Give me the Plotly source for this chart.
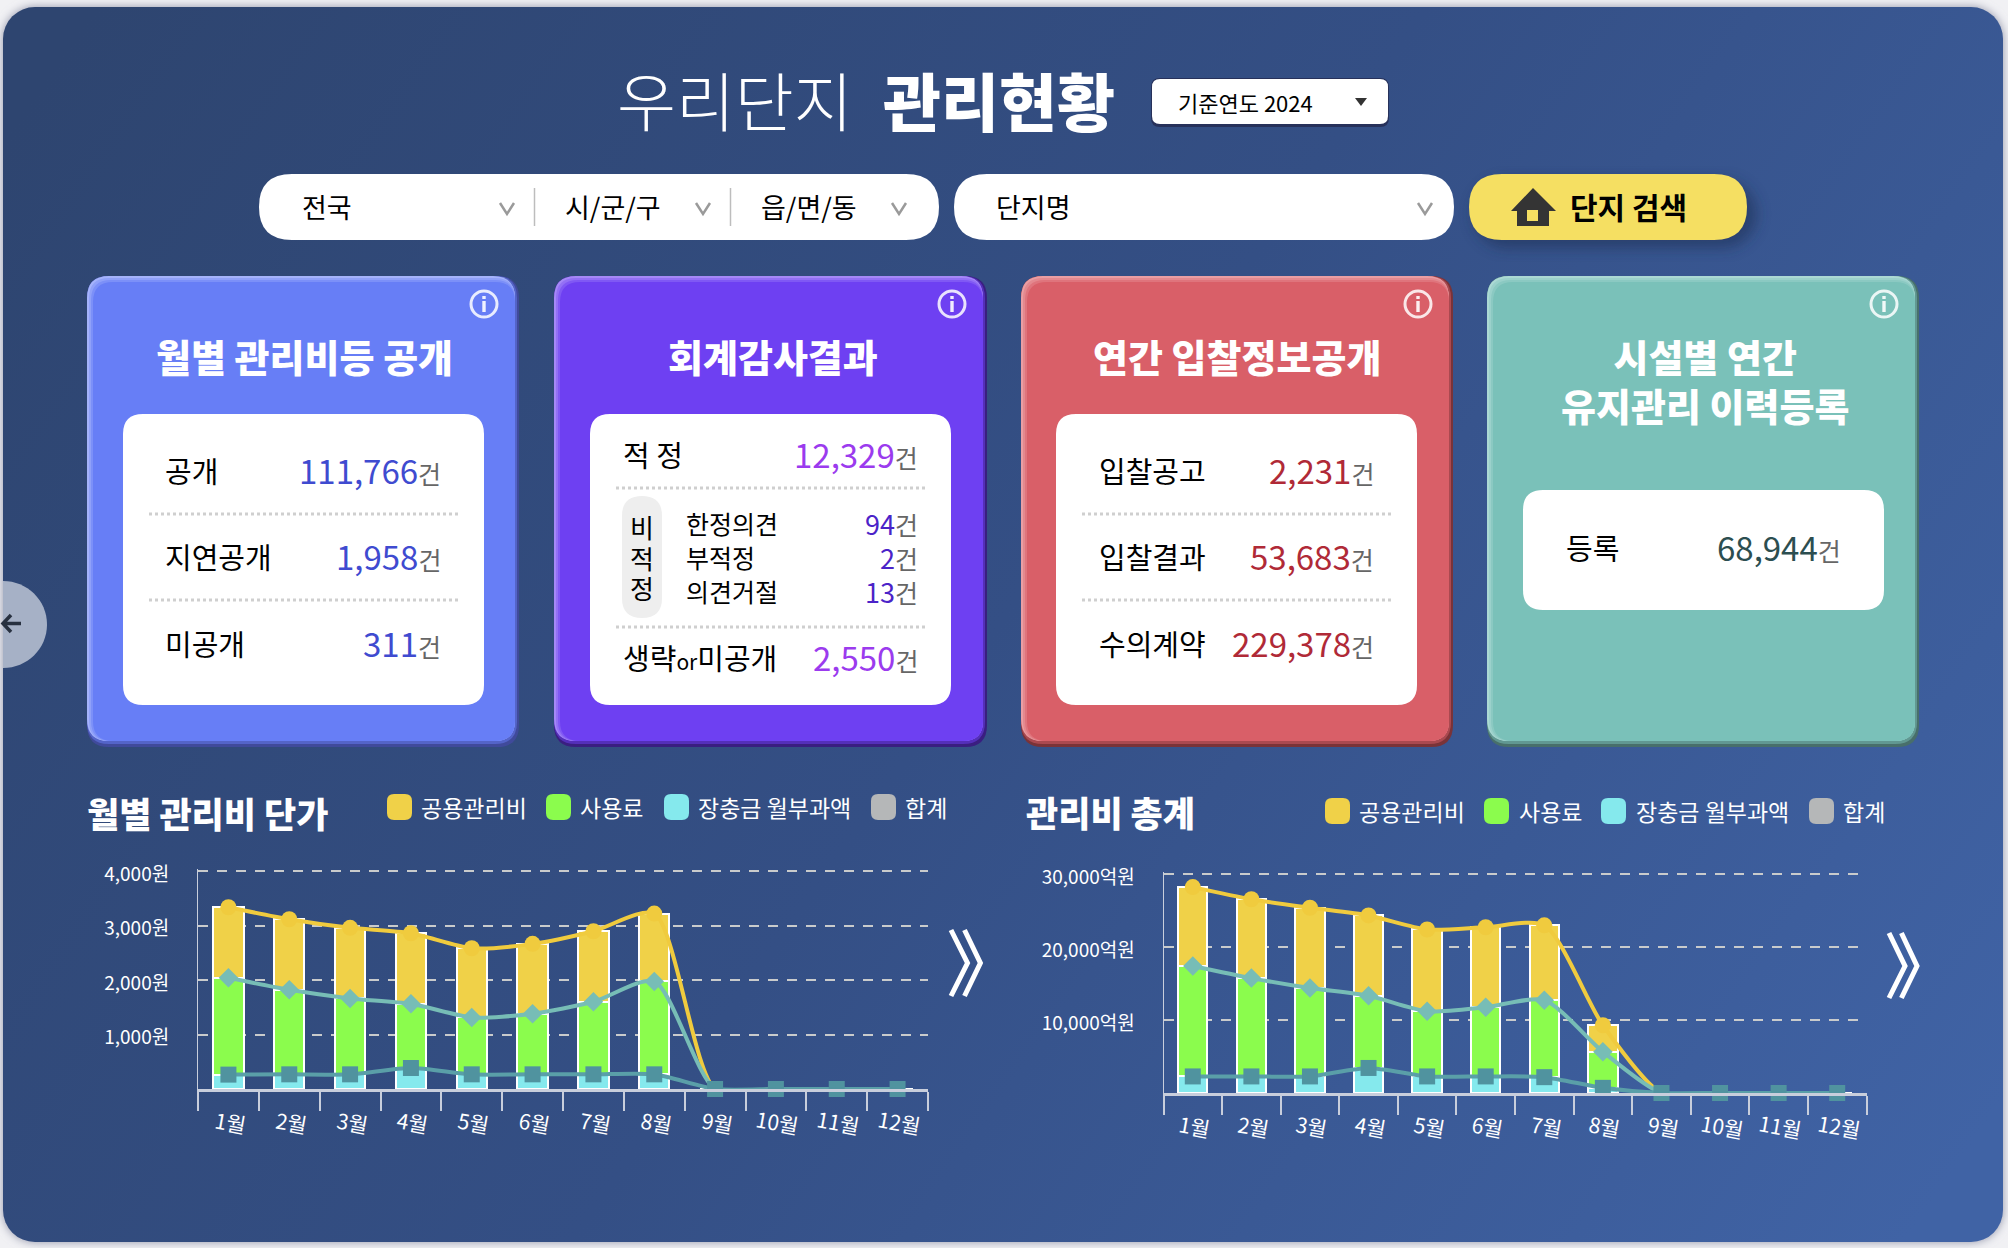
import base64

import plotly.graph_objects as go

FONT = "Noto Sans CJK KR"
WIDTH = 2008
HEIGHT = 1248

MONTHS = ["1월", "2월", "3월", "4월", "5월", "6월", "7월", "8월", "9월", "10월", "11월", "12월"]
LEGEND_LABELS = ["공용관리비", "사용료", "장충금 월부과액", "합계"]
LEGEND_COLORS = ["#F0D148", "#8BFC4D", "#85E9ED", "#B5B7B8"]

# 월별 관리비 단가 (원)
UNIT_COMMON = [1295, 1295, 1295, 1295, 1270, 1283, 1295, 1246, 0, 0, 0, 0]
UNIT_USAGE = [1776, 1551, 1393, 1178, 1044, 1111, 1331, 1704, 0, 0, 0, 0]
UNIT_RESERVE = [264, 269, 269, 385, 269, 269, 269, 269, 0, 0, 0, 0]
UNIT_TICKS = [1000, 2000, 3000, 4000]
UNIT_TICK_LABELS = ["1,000원", "2,000원", "3,000원", "4,000원"]

# 관리비 총계 (억원)
TOTAL_COMMON = [10800, 10800, 11000, 11000, 11200, 10950, 10250, 3630, 0, 0, 0, 0]
TOTAL_USAGE = [15135, 13470, 12110, 9890, 8930, 9485, 10545, 4945, 0, 0, 0, 0]
TOTAL_RESERVE = [2270, 2270, 2270, 3430, 2270, 2270, 2170, 705, 0, 0, 0, 0]
TOTAL_TICKS = [10000, 20000, 30000]
TOTAL_TICK_LABELS = ["10,000억원", "20,000억원", "30,000억원"]

CARD_TITLES = ["월별 관리비등 공개", "회계감사결과", "연간 입찰정보공개", "시설별 연간<br>유지관리 이력등록"]
CARD1_LABELS = ["공개", "지연공개", "미공개"]
CARD1_VALUES = ["111,766", "1,958", "311"]
CARD2_TOP = ("적 정", "12,329")
CARD2_SUB_LABELS = ["한정의견", "부적정", "의견거절"]
CARD2_SUB_VALUES = ["94", "2", "13"]
CARD2_BOTTOM = "2,550"
CARD3_LABELS = ["입찰공고", "입찰결과", "수의계약"]
CARD3_VALUES = ["2,231", "53,683", "229,378"]
CARD4_LABEL = "등록"
CARD4_VALUE = "68,944"

shapes = []
annotations = []


def add_text(x, y, text, size, color="#000000", anchor="left", bold=False, weight=None):
    annotations.append(dict(
        x=x, y=y, xref="x", yref="y", text=text, showarrow=False, align=anchor,
        xanchor=anchor, yanchor="middle", borderpad=0, borderwidth=0,
        font=dict(family=FONT, size=size, color=color,
                  weight=weight if weight else (700 if bold else 400)),
    ))


def round_path(x0, y0, x1, y1, r):
    return (f"M{x0 + r},{y0} L{x1 - r},{y0} Q{x1},{y0} {x1},{y0 + r} "
            f"L{x1},{y1 - r} Q{x1},{y1} {x1 - r},{y1} "
            f"L{x0 + r},{y1} Q{x0},{y1} {x0},{y1 - r} "
            f"L{x0},{y0 + r} Q{x0},{y0} {x0 + r},{y0} Z")


def add_box(x0, y0, x1, y1, r, color):
    shapes.append(dict(type="path", path=round_path(x0, y0, x1, y1, r), xref="x", yref="y",
                       fillcolor=color, line=dict(width=0), layer="below"))


def add_line(path, color, width):
    shapes.append(dict(type="path", path=path, xref="x", yref="y",
                       line=dict(color=color, width=width), layer="below"))


def add_chevron(x, y):
    add_line(f"M{x - 7},{y - 5} L{x},{y + 6} L{x + 7},{y - 5}", "#9A9A9A", 2.5)


def add_separator(x0, x1, y):
    shapes.append(dict(type="line", x0=x0, x1=x1, y0=y, y1=y, xref="x", yref="y",
                       line=dict(color="#CFCFCF", width=3, dash="dot"), layer="below"))


def mix(c1, c2, t):
    a = [int(c1[i:i + 2], 16) for i in (1, 3, 5)]
    b = [int(c2[i:i + 2], 16) for i in (1, 3, 5)]
    return "#" + "".join(f"{round(p + (q - p) * t):02x}" for p, q in zip(a, b))


def add_card(x0, y0, x1, y1, main, light, dark):
    # bevel: dark on the right and bottom, light on the top and left
    add_box(x0, y0, x1, y1, 22, dark)
    add_box(x0, y0, x1 - 2, y1 - 3, 22, mix(dark, main, 0.5))
    add_box(x0, y0, x1 - 4, y1 - 6, 22, light)
    for i in range(1, 4):
        inset = i * 2
        add_box(x0 + inset, y0 + inset, x1 - 4, y1 - 6, 20, mix(light, main, i / 3))
    # info icon
    cx, cy = x1 - 35, 304
    shapes.append(dict(type="circle", x0=cx - 13, x1=cx + 13, y0=cy - 13, y1=cy + 13, xref="x", yref="y",
                       line=dict(color="rgba(255,255,255,0.85)", width=3), layer="below"))
    shapes.append(dict(type="rect", x0=cx - 1.7, x1=cx + 1.7, y0=cy - 3, y1=cy + 8, xref="x", yref="y",
                       fillcolor="rgba(255,255,255,0.9)", line=dict(width=0), layer="below"))
    shapes.append(dict(type="rect", x0=cx - 1.7, x1=cx + 1.7, y0=cy - 8, y1=cy - 5, xref="x", yref="y",
                       fillcolor="rgba(255,255,255,0.9)", line=dict(width=0), layer="below"))


def count_text(value, color, size=33, unit_size=25):
    return (f'<span style="color:{color};font-size:{size}px">{value}</span>'
            f'<span style="color:#666666;font-size:{unit_size}px">건</span>')


# page background, gradient card and soft shadows
bg_svg = f"""<svg xmlns="http://www.w3.org/2000/svg" width="{WIDTH}" height="{HEIGHT}" viewBox="0 0 {WIDTH} {HEIGHT}">
<defs>
<linearGradient id="g" gradientUnits="userSpaceOnUse" x1="100" y1="0" x2="1900" y2="1248">
<stop offset="0" stop-color="#2E4570"/><stop offset="0.5" stop-color="#344F85"/><stop offset="1" stop-color="#4063A5"/>
</linearGradient>
<filter id="b" x="-20%" y="-20%" width="140%" height="140%"><feGaussianBlur stdDeviation="7"/></filter>
<filter id="c" x="-5%" y="-5%" width="110%" height="110%"><feGaussianBlur stdDeviation="5"/></filter>
</defs>
<rect width="{WIDTH}" height="{HEIGHT}" fill="#F1F1F4"/>
<rect x="3" y="7" width="2000" height="1235" rx="32" fill="#8F93A8" filter="url(#c)"/>
<rect x="3" y="7" width="2000" height="1235" rx="32" fill="url(#g)"/>
<rect x="1473" y="180" width="284" height="68" rx="34" fill="#1F2E52" opacity="0.55" filter="url(#b)"/>
</svg>"""
bg_source = "data:image/svg+xml;base64," + base64.b64encode(bg_svg.encode()).decode()

# title row
add_text(735, 98, "우리단지", 64, "#FFFFFF", "center", weight=300)
add_text(999, 98, "관리현황", 63, "#FFFFFF", "center", weight=900)
add_box(1151, 78, 1389, 127, 9, "#27315A")
add_box(1152, 79, 1388, 124, 8, "#FFFFFF")
add_text(1245, 102, "기준연도 2024", 22, "#000000", "center")
shapes.append(dict(type="path", path="M1355,98 L1367,98 L1361,106 Z", xref="x", yref="y",
                   fillcolor="#333333", line=dict(width=0), layer="below"))

# search row
add_box(259, 174, 939, 240, 33, "#FFFFFF")
add_box(954, 174, 1454, 240, 33, "#FFFFFF")
add_box(1469, 174, 1747, 240, 33, "#F5DF62")
for sep_x in [534.5, 730.5]:
    shapes.append(dict(type="line", x0=sep_x, x1=sep_x, y0=188, y1=226, xref="x", yref="y",
                       line=dict(color="#BDBDBD", width=1.5), layer="below"))
for chev_x in [507, 703, 899, 1425]:
    add_chevron(chev_x, 208)
add_text(327, 206, "전국", 27, "#000000", "center")
add_text(613, 206, "시/군/구", 27, "#000000", "center")
add_text(809, 206, "읍/면/동", 27, "#000000", "center")
add_text(1033, 206, "단지명", 27, "#000000", "center")
add_text(1628, 206, "단지 검색", 30, "#000000", "center", bold=True)
shapes.append(dict(type="path", path="M1533,188 L1556,211 L1549,211 L1549,226 L1517,226 L1517,211 L1511,211 Z",
                   xref="x", yref="y", fillcolor="#343434", line=dict(width=0), layer="below"))
shapes.append(dict(type="rect", x0=1527, x1=1538, y0=210, y1=221, xref="x", yref="y",
                   fillcolor="#F5DF62", line=dict(width=0), layer="below"))

# left arrow button
shapes.append(dict(type="path", path="M3,581 C27,581 47,600 47,624.5 C47,649 27,668 3,668 Z", xref="x", yref="y",
                   fillcolor="#A6B1C6", line=dict(width=0), layer="below"))
add_line("M21,623.5 L4,623.5 M11,615 L3,623.5 L11,632", "#283140", 3.5)

# card 1
add_card(87, 276, 519, 747, "#677EF6", "#A5B3FB", "#404A9B")
add_text(304, 355, CARD_TITLES[0], 38, "#FFFFFF", "center", weight=900)
add_box(123, 414, 484, 705, 20, "#FFFFFF")
for sep_y in [514, 600]:
    add_separator(149, 458, sep_y)
for row_y, label, value in zip([470, 556, 643], CARD1_LABELS, CARD1_VALUES):
    add_text(165, row_y, label, 29)
    add_text(441, row_y, count_text(value, "#3F4BD0"), 33, "#3F4BD0", "right")

# card 2
add_card(554, 276, 987, 747, "#6E40F2", "#A588F7", "#3A1E80")
add_text(773, 355, CARD_TITLES[1], 38, "#FFFFFF", "center", weight=900)
add_box(590, 414, 951, 705, 20, "#FFFFFF")
add_separator(616, 925, 488)
add_separator(616, 925, 627)
add_text(623, 454, CARD2_TOP[0], 29)
add_text(918, 454, count_text(CARD2_TOP[1], "#9B3BEE"), 33, "#9B3BEE", "right")
add_box(622, 496, 662, 618, 20, "#EEEEEE")
pill_chars = "<br>".join(f'<span style="font-size:26px">{ch}</span>' for ch in "비적정")
add_text(642, 557, pill_chars, 23.5, "#000000", "center")
sub_labels = "<br>".join(f'<span style="font-size:25px">{label}</span>' for label in CARD2_SUB_LABELS)
add_text(686, 557, sub_labels, 26)
add_text(918, 557, "<br>".join(count_text(v, "#4B23C8", 27, 25) for v in CARD2_SUB_VALUES), 26, "#4B23C8", "right")
add_text(623, 657, '생략<span style="font-size:21px">or</span>미공개', 29)
add_text(918, 657, count_text(CARD2_BOTTOM, "#9B3BEE"), 33, "#9B3BEE", "right")

# card 3
add_card(1021, 276, 1453, 747, "#D95F68", "#EA9EA3", "#7A3338")
add_text(1237, 355, CARD_TITLES[2], 38, "#FFFFFF", "center", weight=900)
add_box(1056, 414, 1417, 705, 20, "#FFFFFF")
for sep_y in [514, 600]:
    add_separator(1082, 1391, sep_y)
for row_y, label, value in zip([470, 556, 643], CARD3_LABELS, CARD3_VALUES):
    add_text(1099, row_y, label, 29)
    add_text(1374, row_y, count_text(value, "#B02A37"), 33, "#B02A37", "right")

# card 4
add_card(1487, 276, 1919, 747, "#7AC1B9", "#ACD9D4", "#486F6B")
add_text(1705, 380, CARD_TITLES[3], 38, "#FFFFFF", "center", weight=900)
add_box(1523, 490, 1884, 610, 20, "#FFFFFF")
add_text(1566, 547, CARD4_LABEL, 29)
add_text(1841, 547, count_text(CARD4_VALUE, "#2C4E50"), 33, "#2C4E50", "right")

# chart headers, hand-drawn legends with rounded swatches
add_text(87, 812, "월별 관리비 단가", 35, "#FFFFFF", weight=900)
add_text(1026, 811, "관리비 총계", 35, "#FFFFFF", weight=900)
legend_left = [(387, 421), (546, 580), (664, 698), (871, 905)]
legend_right = [(1325, 1359), (1484, 1519), (1601, 1636), (1809, 1843)]
for positions, y_mid in [(legend_left, 807), (legend_right, 811)]:
    for (box_x, text_x), label, color in zip(positions, LEGEND_LABELS, LEGEND_COLORS):
        add_box(box_x, y_mid - 13, box_x + 25, y_mid + 13, 7, color)
        add_text(text_x, y_mid, label, 23, "#FFFFFF")

# ">>" links next to each chart
for x_a, x_b, x_c, x_d, y_a, y_b, y_c in [
    (951, 967.5, 964.5, 980.4, 930, 963, 996),
    (1889, 1905, 1901.4, 1917, 933, 966, 998),
]:
    add_line(f"M{x_a},{y_a} L{x_b},{y_b} L{x_a},{y_c}", "#FFFFFF", 5)
    add_line(f"M{x_c},{y_a} L{x_d},{y_b} L{x_c},{y_c}", "#FFFFFF", 5)


def add_chart(fig, common, usage, reserve, xname, yname):
    stack_1 = reserve
    stack_2 = [a + b for a, b in zip(reserve, usage)]
    stack_3 = [a + b for a, b in zip(stack_2, common)]
    for values, color in [(reserve, "#85E9ED"), (usage, "#8BFC4D"), (common, "#F0D148")]:
        fig.add_trace(go.Bar(
            x=MONTHS, y=values, xaxis=xname, yaxis=yname, width=0.5, showlegend=False,
            marker=dict(color=color, line=dict(color="#FFFFFF", width=2)),
        ))
    for values, color, symbol, size in [
        (stack_3, "#F0CB3E", "circle", 16),
        (stack_2, "#77BDB6", "diamond", 15),
        (stack_1, "#50939F", "square", 16),
    ]:
        # the empty months only show the square marker
        opacities = [1 if v > 0 or symbol == "square" else 0 for v in values]
        fig.add_trace(go.Scatter(
            x=MONTHS, y=values, xaxis=xname, yaxis=yname, mode="lines+markers", showlegend=False,
            line=dict(color=color if symbol != "square" else "#5A9FA8", width=4, shape="spline", smoothing=0.7),
            marker=dict(color=color, symbol=symbol, size=size, opacity=opacities),
            cliponaxis=False,
        ))
    # slanted month labels, centred on their categories
    for month in MONTHS:
        annotations.append(dict(
            x=month, y=0, xref=xname, yref=yname, xshift=2, yshift=-33, text=month, showarrow=False, textangle=10,
            xanchor="center", yanchor="middle", font=dict(family=FONT, size=21, color="#FFFFFF"),
        ))


fig = go.Figure()
# empty trace keeps the full-page pixel axes alive for the shapes and text
fig.add_trace(go.Scatter(x=[None], y=[None], xaxis="x", yaxis="y", showlegend=False, hoverinfo="skip"))
add_chart(fig, UNIT_COMMON, UNIT_USAGE, UNIT_RESERVE, "x2", "y2")
add_chart(fig, TOTAL_COMMON, TOTAL_USAGE, TOTAL_RESERVE, "x3", "y3")


def x_axis(x0, x1, anchor):
    return dict(
        domain=[x0 / WIDTH, x1 / WIDTH], anchor=anchor, type="category", categoryorder="array", categoryarray=MONTHS,
        range=[-0.5, 11.5], showgrid=False, zeroline=False, showline=True, linecolor="#C8CEDC", linewidth=2.5,
        ticks="outside", tickson="boundaries", ticklen=19, tickwidth=1.5, tickcolor="#C8CEDC",
        showticklabels=False, fixedrange=True,
    )


def y_axis(y0, y1, anchor, top, tickvals, ticktext):
    # 2 px of headroom: plotly drops a gridline sitting right on the end of the axis
    headroom = top * 2 / (y1 - y0)
    return dict(
        domain=[1 - y1 / HEIGHT, 1 - (y0 - 2) / HEIGHT], anchor=anchor, range=[0, top + headroom], tickmode="array",
        tickvals=tickvals, ticktext=ticktext, showgrid=True, gridcolor="#C9CBCC", gridwidth=2,
        griddash="10px,9px", zeroline=False, showline=True, linecolor="#C8CEDC", linewidth=1,
        ticks="", ticklabelstandoff=24, ticklabelshift=3,
        tickfont=dict(family=FONT, size=19, color="#FFFFFF"), fixedrange=True,
    )


fig.update_layout(
    width=WIDTH,
    height=HEIGHT,
    margin=dict(l=0, r=0, t=0, b=0, autoexpand=False),
    paper_bgcolor="#F1F1F4",
    plot_bgcolor="rgba(0,0,0,0)",
    barmode="stack",
    bargap=0.5,
    font=dict(family=FONT),
    showlegend=False,
    xaxis=dict(domain=[0, 1], range=[0, WIDTH], visible=False, fixedrange=True),
    yaxis=dict(domain=[0, 1], range=[HEIGHT, 0], visible=False, fixedrange=True),
    xaxis2=x_axis(198, 928, "y2"),
    yaxis2=y_axis(871, 1089, "x2", 4000, UNIT_TICKS, UNIT_TICK_LABELS),
    xaxis3=x_axis(1163.5, 1866.5, "y3"),
    yaxis3=y_axis(874, 1093, "x3", 30000, TOTAL_TICKS, TOTAL_TICK_LABELS),
    images=[dict(source=bg_source, xref="paper", yref="paper", x=0, y=1, sizex=1, sizey=1,
                 sizing="stretch", xanchor="left", yanchor="top", layer="below")],
    shapes=shapes,
    annotations=annotations,
)

fig.write_html("out.html", config=dict(displayModeBar=False),
               post_script="document.body.style.margin='0';document.body.style.overflow='hidden';")
